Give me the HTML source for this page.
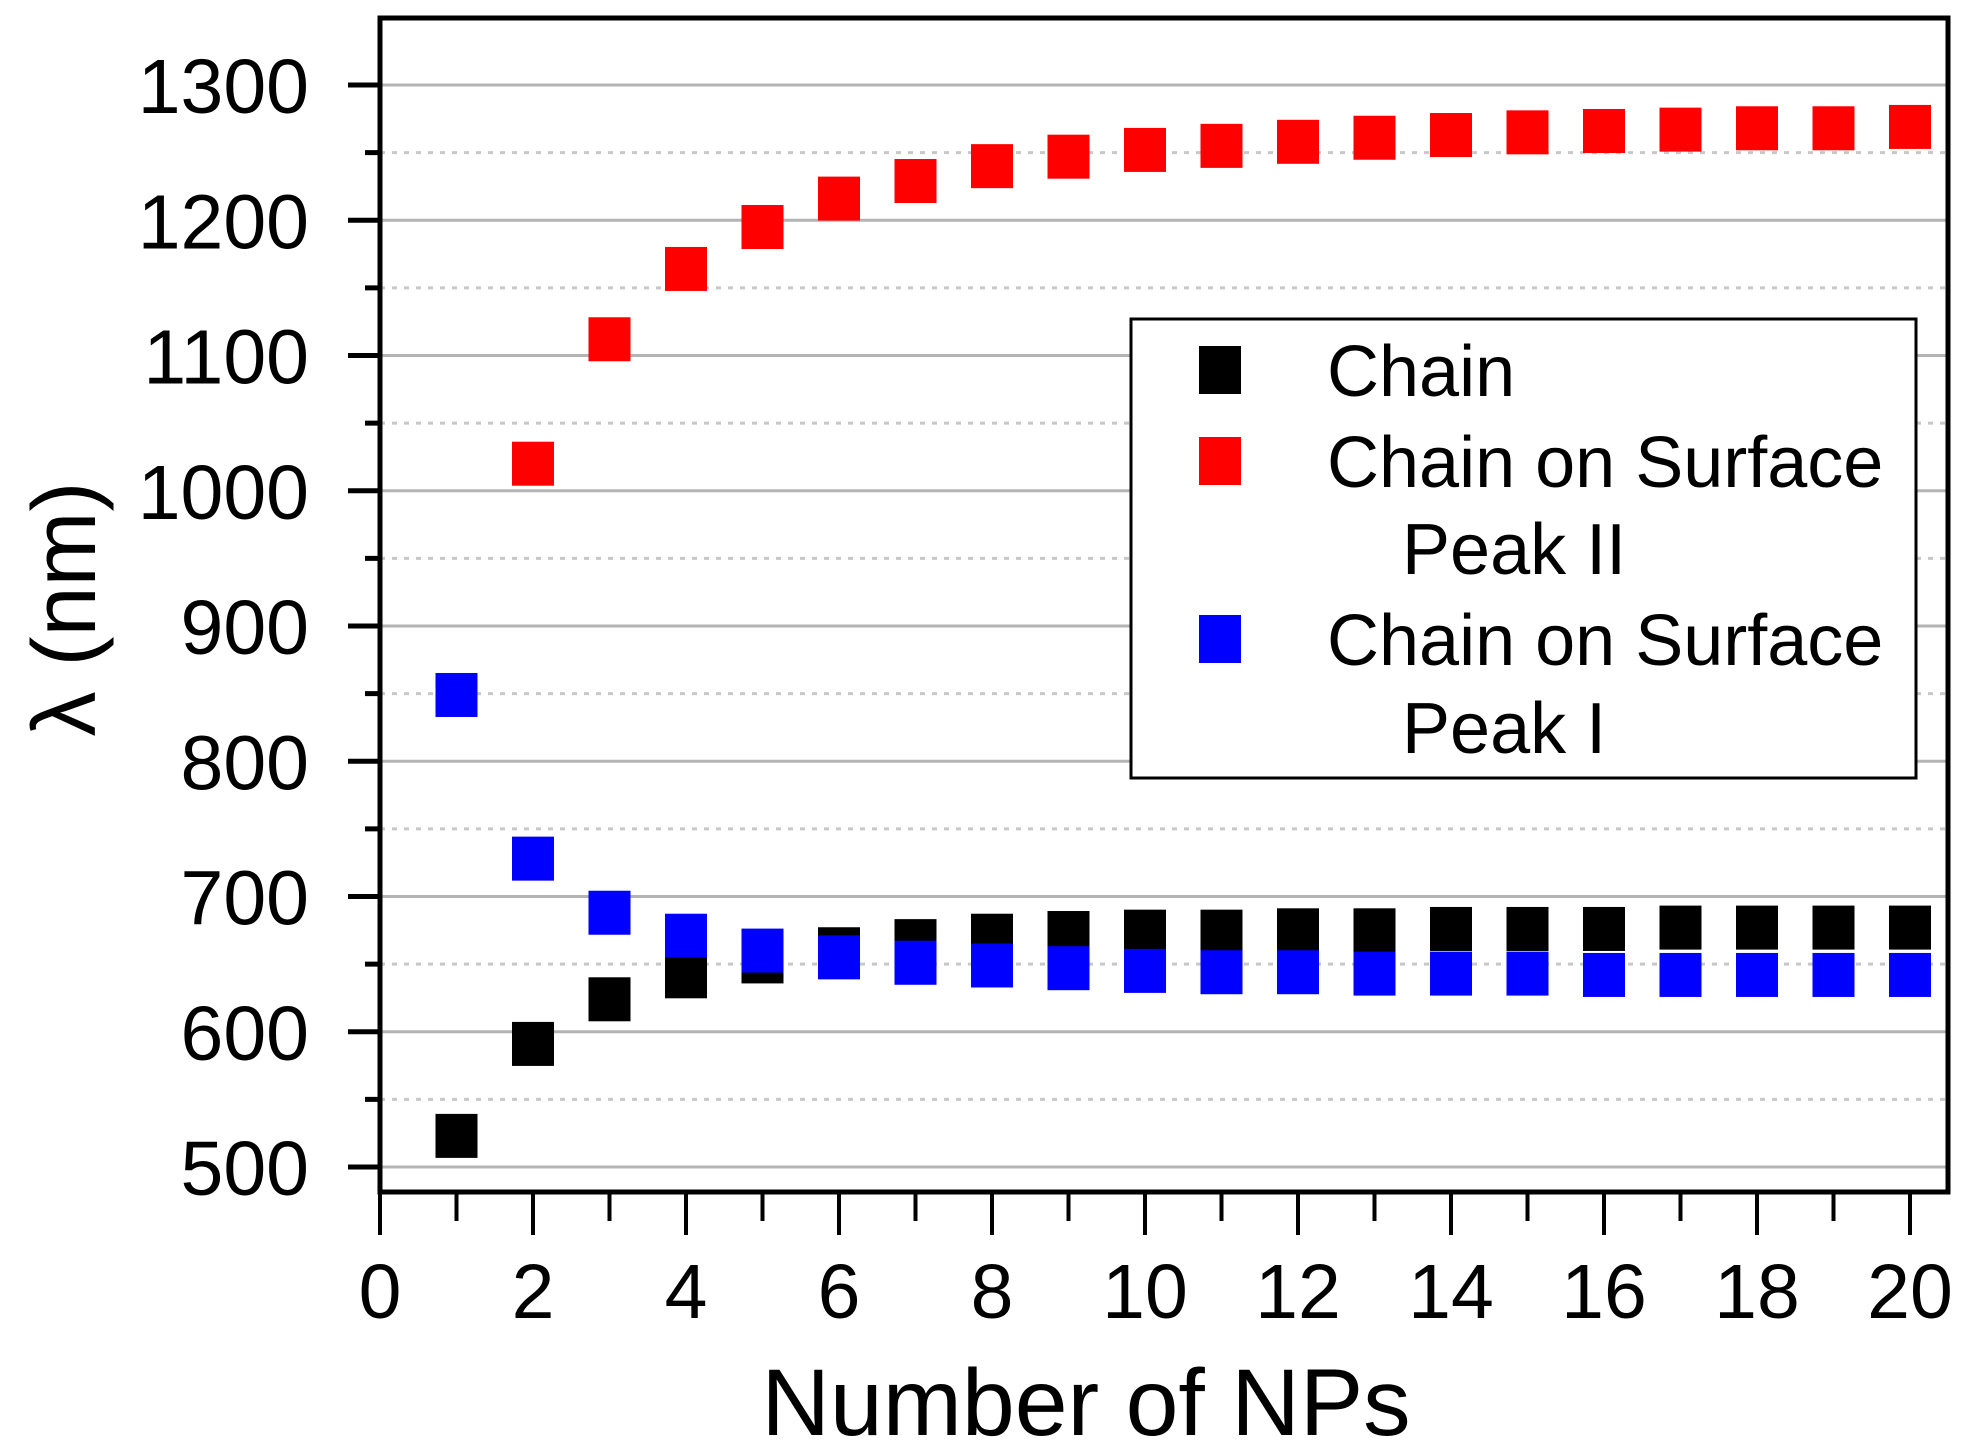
<!DOCTYPE html>
<html><head><meta charset="utf-8"><style>html,body{margin:0;padding:0;background:#fff}svg{display:block}</style></head>
<body>
<svg width="1968" height="1455" viewBox="0 0 1968 1455" xmlns="http://www.w3.org/2000/svg" font-family="Liberation Sans, Arial, sans-serif">
<script>
</script>
<g id="grid"></g>
<g id="all"></g>
</svg>
<script>
const svg=document.querySelector('svg');
const NS='http://www.w3.org/2000/svg';
function el(t,a,txt){const e=document.createElementNS(NS,t);for(const k in a)e.setAttribute(k,a[k]);if(txt!==undefined)e.textContent=txt;svg.appendChild(e);return e;}
const L=380,R=1948,T=18,B=1192;
const X=n=>380+n*76.5;
const Y=v=>85+(1300-v)*1.3525;
// gridlines
for(let v=550;v<=1300;v+=100){el('line',{x1:L,x2:R,y1:Y(v),y2:Y(v),stroke:'#c8c8c8','stroke-width':3,'stroke-dasharray':'5 7'});}
for(let v=500;v<=1300;v+=100){el('line',{x1:L,x2:R,y1:Y(v),y2:Y(v),stroke:'#b4b4b4','stroke-width':3});}
// series
const black=[523,591,624,641,652,661,667,671,673,674,674,675,675,676,676,676,677,677,677,677];
const blue=[849,728,688,671,660,655,651,649,647,645,644,644,643,643,643,642,642,642,642,642];
const red=[null,1020,1112,1164,1195,1216,1229,1240,1247,1252,1255,1258,1261,1263,1265,1266,1267,1268,1268,1269];
function pts(arr,c){arr.forEach((v,i)=>{if(v==null)return;el('rect',{x:X(i+1)-21,y:Y(v)-22,width:42,height:44,fill:c});});}
pts(black,'#000');pts(blue,'#0000ff');pts(red,'#ff0000');
// frame
el('rect',{x:L,y:T,width:R-L,height:B-T,fill:'none',stroke:'#000','stroke-width':5});
// y ticks
for(let v=500;v<=1300;v+=50){const maj=v%100==0;el('line',{x1:maj?348:365,x2:L,y1:Y(v),y2:Y(v),stroke:'#000','stroke-width':5});}
for(let v=500;v<=1300;v+=100){el('text',{x:309,y:Y(v)+28,'font-size':77,'text-anchor':'end',fill:'#000'},String(v));}
// x ticks
for(let n=0;n<=20;n++){const maj=n%2==0;el('line',{x1:X(n),x2:X(n),y1:B,y2:maj?B+43:B+29,stroke:'#000','stroke-width':4});}
for(let n=0;n<=20;n+=2){el('text',{x:X(n),y:1318,'font-size':77,'text-anchor':'middle',fill:'#000'},String(n));}
el('text',{x:1086,y:1435,'font-size':95,'text-anchor':'middle',fill:'#000'},'Number of NPs');
el('text',{x:0,y:0,'font-size':90,'text-anchor':'middle',fill:'#000',transform:'translate(95,609) rotate(-90)'},'λ (nm)');
// legend
el('rect',{x:1131,y:319,width:785,height:459,fill:'#fff',stroke:'#000','stroke-width':3});
const rows=[['#000','Chain',370],['#ff0000','Chain on Surface',461],['#0000ff','Chain on Surface',639]];
rows.forEach(r=>{el('rect',{x:1199,y:r[2]-24,width:42,height:48,fill:r[0]});el('text',{x:1327,y:r[2]+26,'font-size':72,fill:'#000'},r[1]);});
el('text',{x:1402,y:574,'font-size':72,fill:'#000'},'Peak II');
el('text',{x:1402,y:753,'font-size':72,fill:'#000'},'Peak I');
</script>
</body></html>
